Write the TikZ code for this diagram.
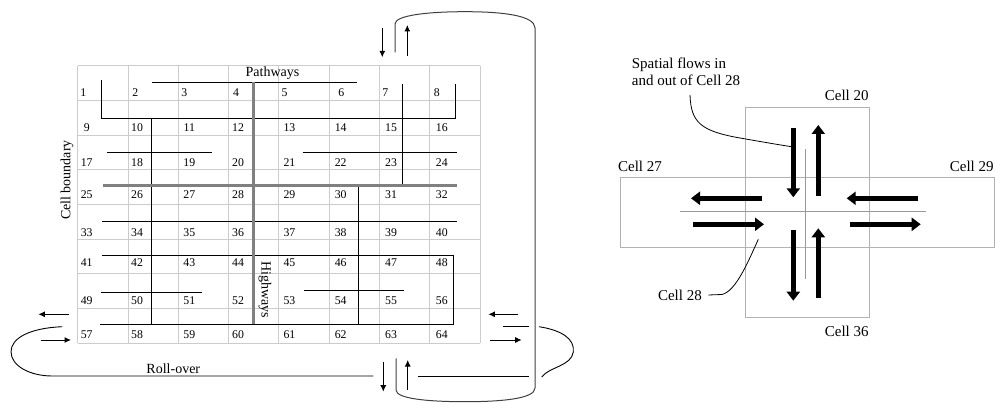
\documentclass[tikz,border=0pt]{standalone}
\usepackage{fontspec}
\setmainfont{Liberation Serif}
\usetikzlibrary{arrows.meta}
\begin{document}
\begin{tikzpicture}[x=1pt,y=-1pt,
  gridline/.style={draw=black!20,line width=0.9pt},
  path line/.style={draw=black,line width=0.9pt},
  highway/.style={draw=black!50,line width=3pt},
  num/.style={font=\fontsize{11.8}{12}\selectfont,inner sep=0pt},
  lbl/.style={font=\fontsize{14}{16}\selectfont,inner sep=0pt},
  clbl/.style={font=\fontsize{15}{17}\selectfont,inner sep=0pt},
  thin arrow/.style={draw=black,line width=1pt,-{Latex[length=6.5pt,width=6pt]}},
  loopline/.style={draw=black!75,line width=1pt},
  box/.style={draw=black!30,line width=0.9pt},
  cross/.style={draw=black!40,line width=0.9pt},
  fat arrow/.style={draw=black,line width=5pt,-{Triangle[length=9pt,width=13pt]}},
  leader/.style={draw=black,line width=0.8pt}]
\useasboundingbox (0,0) rectangle (995,403);

% ---------- grid ----------
\foreach \i in {0,...,8}
  \draw[gridline] ({77.7+50.3*\i},65.7) -- ({77.7+50.3*\i},343);
\foreach \j in {0,...,8}
  \draw[gridline] (77.7,{65.7+34.66*\j}) -- (480.1,{65.7+34.66*\j});

% ---------- cell numbers ----------
\foreach \c/\off in {0/5.6,1/7.3,2/6,3/7.4,4/5.6,5/12,6/5.7,7/7}{
  \pgfmathtruncatemacro\n{\c+1}
  \node[num] (n\n) at ({77.7+50.3*\c+\off},93) {\n};
}
\foreach \r/\yy in {1/128,2/163,3/195,4/232.7,5/262.3,6/300.7,7/334.3}{
  \foreach \c/\off in {0/9,1/9,2/11,3/9.5,4/10.5,5/11.5,6/11.5,7/12}{
    \pgfmathtruncatemacro\n{\r*8+\c+1}
    \node[num] (n\n) at ({77.7+50.3*\c+\off},\yy) {\n};
  }
}

% ---------- pathways ----------
\draw[path line] (151.7,82.3) -- (356.7,82.3);
\draw[path line] (101.7,80.3) -- (101.7,118.7) -- (455.3,118.7) -- (455.3,84);
\draw[path line] (151.7,118.7) -- (151.7,324.3);
\draw[path line] (106.7,152) -- (212.3,152);
\draw[path line] (302.7,152) -- (456.7,152);
\draw[path line] (402.7,84) -- (402.7,184);
\draw[path line] (102.3,221) -- (456.7,221);
\draw[path line] (102.3,255.7) -- (453.3,255.7) -- (453.3,324.3) -- (100,324.3);
\draw[path line] (101,292.3) -- (202.3,292.3);
\draw[path line] (304.3,290) -- (404.3,290);
\draw[path line] (358.7,185) -- (358.7,324.3);

% ---------- highways ----------
\draw[highway] (103.3,185.5) -- (456.7,185.5);
\draw[highway] (253.3,82.3) -- (253.3,324.3);

% ---------- labels ----------
\node[lbl] (pathways) at (272.5,73.3) {Pathways};
\node[lbl,rotate=90] (cellb) at (67,180) {Cell boundary};
\node[lbl,rotate=-90] (highways) at (265,290) {Highways};
\node[lbl] (rollover) at (173.3,368.3) {Roll-over};

% ---------- roll-over loops ----------
\draw[loopline] (395,52.3) -- (395,24) .. controls (395,15) and (430,11.7) .. (465,11.7)
   .. controls (500,11.7) and (535,15) .. (535,28) -- (535,388)
   .. controls (535,399) and (500,401.7) .. (465,401.7)
   .. controls (430,401.7) and (396,399) .. (396,390) -- (396,358.3);
\draw[path line] (62.3,326.7) .. controls (30,328) and (11,338) .. (11,351.7)
   .. controls (11,366) and (30,376) .. (52.3,376) -- (373.3,376);
\draw[path line] (418.3,376) -- (529.3,376);
\draw[path line] (503,326.7) -- (529.3,326.7);
\draw[path line] (539,326.7) .. controls (560,330) and (575,338) .. (573.3,352)
   .. controls (571.5,366) and (549,367) .. (541.7,377);

\coordinate (td1) at (382.3,27.7);  \coordinate (td2) at (382.3,57.3);
\coordinate (tu1) at (407.3,56);    \coordinate (tu2) at (407.3,25);
\coordinate (bd1) at (383.3,361.7); \coordinate (bd2) at (383.3,391.7);
\coordinate (bu1) at (407.7,390);   \coordinate (bu2) at (407.7,360);
\coordinate (ll1) at (69,314.3);    \coordinate (ll2) at (38.3,314.3);
\coordinate (lr1) at (40.7,340);    \coordinate (lr2) at (71,340);
\coordinate (rl1) at (518.3,314.3); \coordinate (rl2) at (488.3,314.3);
\coordinate (rr1) at (490,340);     \coordinate (rr2) at (521.7,340);
\draw[thin arrow] (td1) -- (td2);
\draw[thin arrow] (tu1) -- (tu2);
\draw[thin arrow] (bd1) -- (bd2);
\draw[thin arrow] (bu1) -- (bu2);
\draw[thin arrow] (ll1) -- (ll2);
\draw[thin arrow] (lr1) -- (lr2);
\draw[thin arrow] (rl1) -- (rl2);
\draw[thin arrow] (rr1) -- (rr2);

% ---------- right diagram ----------
\draw[box] (745,107.7) rectangle (869.3,317.3);
\draw[box] (620.7,177.3) rectangle (994.3,247.7);
\draw[cross] (805.7,149.3) -- (805.7,279);
\draw[cross] (680,211.7) -- (926,211.7);

\coordinate (a1s) at (793.3,127.7); \coordinate (a1e) at (793.3,197.3);
\coordinate (a2s) at (818.3,196);   \coordinate (a2e) at (818.3,125);
\coordinate (a3s) at (762.3,198.3); \coordinate (a3e) at (691,198.3);
\coordinate (a4s) at (918.3,198.3); \coordinate (a4e) at (846.7,198.3);
\coordinate (a5s) at (693.3,224.3); \coordinate (a5e) at (764,224.3);
\coordinate (a6s) at (850,224.3);   \coordinate (a6e) at (920.7,224.3);
\coordinate (a7s) at (793.3,230);   \coordinate (a7e) at (793.3,300.7);
\coordinate (a8s) at (818.3,298.3); \coordinate (a8e) at (818.3,228.3);
\foreach \k in {1,...,8} \draw[fat arrow] (a\k s) -- (a\k e);

\node[clbl] (c20) at (846.7,95) {Cell 20};
\node[clbl] (c27) at (640,166) {Cell 27};
\node[clbl] (c29) at (971.7,166) {Cell 29};
\node[clbl] (c36) at (846.7,331.7) {Cell 36};
\node[clbl,anchor=east] (c28) at (702,295) {Cell 28};
\node[clbl,anchor=west,align=left,font=\fontsize{15}{16.7}\selectfont] (flows) at (631.7,71.7)
  {Spatial flows in\\and out of Cell 28};

\coordinate (f1) at (690,95);
\coordinate (f2) at (791.7,146.7);
\draw[leader] (f1) .. controls (691,122) and (700,131) .. (740,138)
   .. controls (760,141.5) and (780,145) .. (f2);
\coordinate (g1) at (708.3,295);
\coordinate (g2) at (758.3,239.3);
\draw[leader] (g1) -- (722,294.5) .. controls (736,291) and (748,262) .. (g2);
\end{tikzpicture}
\end{document}
